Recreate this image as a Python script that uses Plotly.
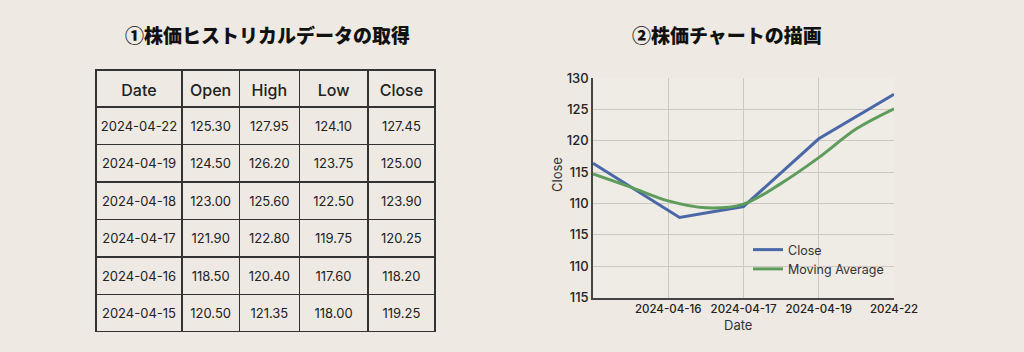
import plotly.graph_objects as go

# ---- table data ----
dates = ["2024-04-22", "2024-04-19", "2024-04-18", "2024-04-17", "2024-04-16", "2024-04-15"]
open_ = ["125.30", "124.50", "123.00", "121.90", "118.50", "120.50"]
high = ["127.95", "126.20", "125.60", "122.80", "120.40", "121.35"]
low = ["124.10", "123.75", "122.50", "119.75", "117.60", "118.00"]
close_tbl = ["127.45", "125.00", "123.90", "120.25", "118.20", "119.25"]
headers = ["Date", "Open", "High", "Low", "Close"]

# ---- chart data (position along the date axis, value) ----
close_x = [0, 1.15, 2, 3, 4]
close_y = [116.4, 107.75, 109.5, 120.3, 127.4]
ma_x = [0, 0.5, 1, 1.5, 2, 2.5, 3, 3.5, 4]
ma_y = [114.7, 112.6, 110.4, 109.3, 109.9, 113.2, 117.3, 121.9, 125.1]
x_tickvals = [1, 2, 3, 4]
x_ticktext = ["2024-04-16", "2024-04-17", "2024-04-19", "2024-22"]
y_tickvals = [95, 100, 105, 110, 115, 120, 125, 130]
y_ticktext = ["115", "110", "115", "110", "115", "120", "125", "130"]

BG = "#EEE9E3"
W, H = 1024, 352
col_w = [86, 57.5, 60, 68.5, 67.3]
TEXT_SHIFT = 6  # px: centre text vertically in the cells

fig = go.Figure()

# table grid (borders)
fig.add_trace(go.Table(
    domain=dict(x=[96 / W, 435 / W], y=[1 - 332 / H, 1 - 70 / H]),
    columnwidth=col_w,
    header=dict(values=[""] * len(headers), height=37,
                fill_color=BG, line=dict(color="#333333", width=1.5)),
    cells=dict(values=[[""] * len(dates)] * len(headers), height=37.5,
               fill_color=BG, line=dict(color="#333333", width=1.5)),
))
# table text
fig.add_trace(go.Table(
    domain=dict(x=[96 / W, 435 / W], y=[1 - (332 + TEXT_SHIFT) / H, 1 - (70 + TEXT_SHIFT) / H]),
    columnwidth=col_w,
    header=dict(values=headers, height=37,
                fill_color="rgba(0,0,0,0)", line=dict(width=0),
                align="center",
                font=dict(family="Inter", size=16, color="#222222", weight=500)),
    cells=dict(values=[dates, open_, high, low, close_tbl], height=37.5,
               fill_color="rgba(0,0,0,0)", line=dict(width=0),
               align="center",
               font=dict(family="Inter", size=13, color="#222222")),
))

fig.add_trace(go.Scatter(x=close_x, y=close_y, mode="lines", name="Close",
                         line=dict(color="#4A68A8", width=3)))
fig.add_trace(go.Scatter(x=ma_x, y=ma_y, mode="lines", name="Moving Average",
                         line=dict(color="#5E9C5C", width=3, shape="spline")))

fig.update_layout(
    width=W, height=H,
    margin=dict(l=0, r=0, t=0, b=0, autoexpand=False),
    paper_bgcolor=BG, plot_bgcolor="#EFEBE5",
    font=dict(family="Inter", color="#333333"),
    xaxis=dict(domain=[593 / W, 894 / W], range=[0, 4], automargin=False,
               tickvals=x_tickvals, ticktext=x_ticktext,
               showgrid=True, gridcolor="#CDC8C1", gridwidth=1,
               showline=True, linecolor="#444444", linewidth=1.5,
               ticks="", tickfont=dict(size=11.5, color="#222222", weight=500),
               zeroline=False),
    yaxis=dict(domain=[1 - 297.5 / H, 1 - 78 / H], range=[95, 130], automargin=False,
               tickvals=y_tickvals, ticktext=y_ticktext,
               showgrid=True, gridcolor="#CDC8C1", gridwidth=1,
               showline=True, linecolor="#444444", linewidth=1.5,
               ticks="", tickfont=dict(size=13, color="#222222", weight=500),
               zeroline=False),
    showlegend=True,
    legend=dict(x=748 / W, y=1 - 235 / H, xanchor="left", yanchor="top",
                bgcolor="rgba(0,0,0,0)", font=dict(size=12.5, color="#333333"),
                tracegroupgap=0),
    annotations=[
        dict(text="①株価ヒストリカルデータの取得", x=267 / W, y=1 - 35 / H,
             xref="paper", yref="paper", xanchor="center", yanchor="middle",
             showarrow=False,
             font=dict(family="Noto Sans CJK JP", size=19, color="#111111", weight=900)),
        dict(text="②株価チャートの描画", x=727 / W, y=1 - 35 / H,
             xref="paper", yref="paper", xanchor="center", yanchor="middle",
             showarrow=False,
             font=dict(family="Noto Sans CJK JP", size=19, color="#111111", weight=900)),
        dict(text="Close", x=557 / W, y=1 - 175 / H, xref="paper", yref="paper",
             xanchor="center", yanchor="middle",
             showarrow=False, textangle=-90,
             font=dict(size=13, color="#333333")),
        dict(text="Date", x=738 / W, y=1 - 325 / H, xref="paper", yref="paper",
             xanchor="center", yanchor="middle",
             showarrow=False, font=dict(size=13, color="#333333")),
    ],
)

fig.write_html("out.html")
